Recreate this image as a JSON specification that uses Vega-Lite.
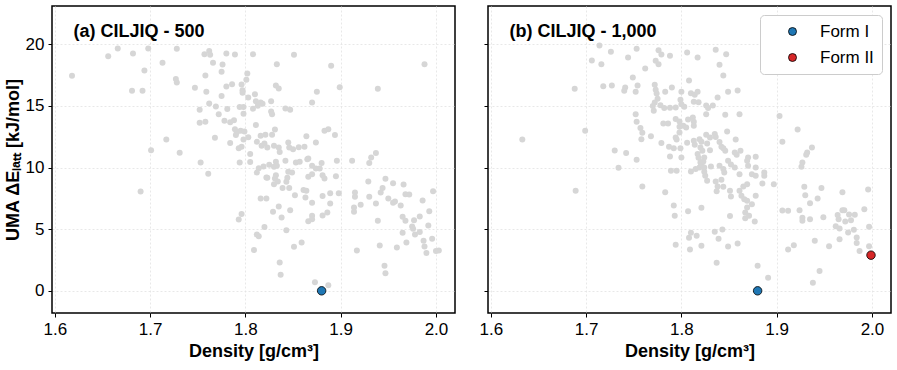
{
  "$schema": "https://vega.github.io/schema/vega-lite/v6.json",
  "padding": {"left": 3, "top": 5, "right": 5, "bottom": 5},
  "background": "white",
  "datasets": {
    "a": [
      {"d":1.666,"e":19.65},{"d":1.656,"e":19.03},{"d":1.682,"e":19.25},{"d":1.698,"e":19.65},{"d":1.728,"e":19.63},{"d":1.713,"e":18.49},{"d":1.694,"e":17.87},{"d":1.618,"e":17.44},{"d":1.727,"e":17.17},{"d":1.728,"e":16.9},{"d":1.681,"e":16.22},{"d":1.692,"e":16.22},{"d":1.717,"e":12.27},{"d":1.701,"e":11.41},{"d":1.731,"e":11.19},{"d":1.690,"e":8.05},
      {"d":1.757,"e":19.19},{"d":1.762,"e":19.46},{"d":1.763,"e":19.14},{"d":1.780,"e":19.25},{"d":1.789,"e":19.17},{"d":1.808,"e":19.19},{"d":1.851,"e":19.14},{"d":1.766,"e":18.49},{"d":1.776,"e":18.35},{"d":1.833,"e":18.38},{"d":1.775,"e":17.76},{"d":1.802,"e":17.62},{"d":1.758,"e":17.46},{"d":1.801,"e":17.11},{"d":1.747,"e":16.46},{"d":1.780,"e":16.57},{"d":1.786,"e":16.76},{"d":1.796,"e":16.73},{"d":1.797,"e":16.27},{"d":1.797,"e":16.06},{"d":1.832,"e":16.65},{"d":1.835,"e":16.41},{"d":1.875,"e":16.14},{"d":1.759,"e":16.14},{"d":1.775,"e":15.81},{"d":1.810,"e":15.95},{"d":1.803,"e":15.68},{"d":1.870,"e":15.27},{"d":1.827,"e":15.38},{"d":1.811,"e":15.38},{"d":1.816,"e":15.27},{"d":1.818,"e":15.17},{"d":1.762,"e":15.19},{"d":1.769,"e":14.95},{"d":1.813,"e":15.0},{"d":1.794,"e":14.9},{"d":1.798,"e":14.9},{"d":1.808,"e":14.76},{"d":1.752,"e":14.68},{"d":1.781,"e":14.74},{"d":1.842,"e":14.78},{"d":1.847,"e":14.68},{"d":1.827,"e":14.54},{"d":1.828,"e":14.33},{"d":1.798,"e":14.36},{"d":1.772,"e":14.33},{"d":1.752,"e":13.63},{"d":1.758,"e":13.71},{"d":1.778,"e":13.79},{"d":1.784,"e":13.68},{"d":1.788,"e":13.84},{"d":1.811,"e":13.44},{"d":1.789,"e":13.11},{"d":1.791,"e":12.87},{"d":1.795,"e":12.98},{"d":1.799,"e":12.92},{"d":1.831,"e":13.08},{"d":1.768,"e":12.41},{"d":1.790,"e":12.63},{"d":1.803,"e":12.46},{"d":1.798,"e":12.27},{"d":1.816,"e":12.57},{"d":1.821,"e":12.65},{"d":1.828,"e":12.65},{"d":1.864,"e":12.54},{"d":1.883,"e":12.98},{"d":1.887,"e":13.11},{"d":1.894,"e":12.63},{"d":1.784,"e":11.98},{"d":1.812,"e":12.08},{"d":1.817,"e":11.76},{"d":1.820,"e":11.95},{"d":1.823,"e":11.62},{"d":1.793,"e":11.57},{"d":1.796,"e":11.68},{"d":1.835,"e":11.62},{"d":1.830,"e":11.76},{"d":1.845,"e":12.03},{"d":1.846,"e":11.62},{"d":1.850,"e":11.49},{"d":1.856,"e":11.65},{"d":1.862,"e":11.68},{"d":1.874,"e":12.03},{"d":1.805,"e":11.09},{"d":1.836,"e":11.25},{"d":1.866,"e":10.73},
      {"d":1.890,"e":18.25},{"d":1.988,"e":18.38},{"d":1.899,"e":16.52},{"d":1.939,"e":16.38},{"d":1.896,"e":10.54},{"d":1.912,"e":10.54},{"d":1.930,"e":10.36},{"d":1.932,"e":10.81},{"d":1.937,"e":11.17},
      {"d":1.753,"e":10.41},{"d":1.761,"e":9.49},{"d":1.794,"e":10.41},{"d":1.805,"e":10.44},{"d":1.814,"e":9.95},{"d":1.819,"e":10.08},{"d":1.825,"e":10.22},{"d":1.830,"e":10.06},{"d":1.832,"e":10.46},{"d":1.833,"e":10.14},{"d":1.842,"e":10.54},{"d":1.853,"e":10.41},{"d":1.857,"e":10.46},{"d":1.865,"e":10.68},{"d":1.812,"e":9.59},{"d":1.822,"e":9.19},{"d":1.823,"e":9.16},{"d":1.832,"e":9.38},{"d":1.831,"e":9.11},{"d":1.834,"e":8.86},{"d":1.845,"e":9.65},{"d":1.849,"e":9.59},{"d":1.844,"e":9.16},{"d":1.843,"e":8.84},{"d":1.830,"e":8.65},{"d":1.839,"e":8.33},{"d":1.846,"e":8.33},{"d":1.852,"e":7.76},{"d":1.866,"e":9.25},{"d":1.870,"e":9.46},{"d":1.861,"e":8.17},{"d":1.864,"e":8.11},{"d":1.863,"e":7.57},{"d":1.870,"e":7.14},{"d":1.870,"e":10.14},{"d":1.874,"e":9.92},{"d":1.878,"e":9.92},{"d":1.880,"e":10.36},{"d":1.881,"e":9.38},{"d":1.883,"e":9.11},{"d":1.881,"e":7.68},{"d":1.816,"e":7.49},{"d":1.822,"e":7.49},{"d":1.835,"e":6.84},{"d":1.847,"e":6.54},{"d":1.829,"e":6.41},{"d":1.838,"e":5.95},{"d":1.870,"e":6.08},{"d":1.870,"e":5.81},{"d":1.866,"e":5.65},{"d":1.881,"e":6.11},{"d":1.886,"e":6.35},{"d":1.796,"e":6.22},{"d":1.793,"e":5.78},{"d":1.820,"e":5.17},{"d":1.843,"e":4.92},{"d":1.812,"e":4.57},{"d":1.814,"e":4.43},{"d":1.859,"e":3.92},{"d":1.851,"e":3.57},{"d":1.809,"e":3.30},{"d":1.836,"e":2.30},{"d":1.837,"e":1.30},{"d":1.873,"e":0.70},{"d":1.887,"e":0.46},
      {"d":1.895,"e":9.30},{"d":1.889,"e":7.92},{"d":1.898,"e":7.92},{"d":1.889,"e":7.08},{"d":1.915,"e":7.97},{"d":1.915,"e":7.62},{"d":1.914,"e":6.76},{"d":1.914,"e":6.41},{"d":1.921,"e":6.97},{"d":1.929,"e":8.86},{"d":1.947,"e":9.08},{"d":1.944,"e":8.33},{"d":1.942,"e":7.97},{"d":1.930,"e":7.62},{"d":1.937,"e":7.08},{"d":1.955,"e":8.73},{"d":1.966,"e":8.62},{"d":1.950,"e":7.49},{"d":1.955,"e":7.14},{"d":1.957,"e":7.24},{"d":1.963,"e":6.92},{"d":1.968,"e":7.84},{"d":1.972,"e":7.81},{"d":1.997,"e":8.08},{"d":1.986,"e":7.33},{"d":1.993,"e":6.46},{"d":1.939,"e":5.68},{"d":1.965,"e":6.0},{"d":1.968,"e":5.68},{"d":1.977,"e":5.73},{"d":1.983,"e":6.03},{"d":1.975,"e":5.22},{"d":1.976,"e":5.03},{"d":1.978,"e":4.57},{"d":1.983,"e":4.76},{"d":1.992,"e":5.30},{"d":1.965,"e":4.70},{"d":1.996,"e":4.22},{"d":1.987,"e":4.06},{"d":1.988,"e":3.59},{"d":1.990,"e":3.06},{"d":1.969,"e":3.92},{"d":1.959,"e":3.52},{"d":1.941,"e":3.68},{"d":1.917,"e":3.27},{"d":2.000,"e":3.22},{"d":2.003,"e":3.26},{"d":1.946,"e":2.03},{"d":1.947,"e":1.43}
    ],
    "b": [
      {"d":1.714,"e":19.9},{"d":1.726,"e":19.38},{"d":1.706,"e":18.68},{"d":1.716,"e":18.38},{"d":1.744,"e":18.92},{"d":1.688,"e":16.38},{"d":1.718,"e":16.6},{"d":1.727,"e":16.65},{"d":1.741,"e":16.49},{"d":1.740,"e":16.22},{"d":1.699,"e":12.98},{"d":1.633,"e":12.27},{"d":1.730,"e":11.38},{"d":1.742,"e":11.17},{"d":1.734,"e":9.98},{"d":1.689,"e":8.11},
      {"d":1.753,"e":19.63},{"d":1.776,"e":19.52},{"d":1.779,"e":19.17},{"d":1.788,"e":19.06},{"d":1.806,"e":19.33},{"d":1.817,"e":18.92},{"d":1.836,"e":19.55},{"d":1.847,"e":19.19},{"d":1.840,"e":18.33},{"d":1.773,"e":18.65},{"d":1.776,"e":18.38},{"d":1.762,"e":18.03},{"d":1.844,"e":17.46},{"d":1.749,"e":17.3},{"d":1.808,"e":17.06},{"d":1.754,"e":16.65},{"d":1.752,"e":16.14},{"d":1.772,"e":16.71},{"d":1.773,"e":16.3},{"d":1.774,"e":16.0},{"d":1.783,"e":16.14},{"d":1.790,"e":16.49},{"d":1.800,"e":16.14},{"d":1.810,"e":16.03},{"d":1.814,"e":15.9},{"d":1.817,"e":16.14},{"d":1.859,"e":16.25},{"d":1.849,"e":16.14},{"d":1.838,"e":15.68},{"d":1.775,"e":15.57},{"d":1.772,"e":15.27},{"d":1.799,"e":15.49},{"d":1.800,"e":15.14},{"d":1.813,"e":15.33},{"d":1.818,"e":15.3},{"d":1.778,"e":15.06},{"d":1.782,"e":14.82},{"d":1.770,"e":14.98},{"d":1.771,"e":14.6},{"d":1.788,"e":14.84},{"d":1.794,"e":14.87},{"d":1.803,"e":14.92},{"d":1.826,"e":15.03},{"d":1.833,"e":15.03},{"d":1.828,"e":14.82},{"d":1.826,"e":14.33},{"d":1.846,"e":14.27},{"d":1.861,"e":14.33},{"d":1.752,"e":14.33},{"d":1.753,"e":13.71},{"d":1.781,"e":13.57},{"d":1.786,"e":13.57},{"d":1.794,"e":13.93},{"d":1.798,"e":13.73},{"d":1.807,"e":13.89},{"d":1.812,"e":14.06},{"d":1.813,"e":13.71},{"d":1.802,"e":13.38},{"d":1.805,"e":13.24},{"d":1.798,"e":13.3},{"d":1.813,"e":13.38},{"d":1.757,"e":13.2},{"d":1.759,"e":12.81},{"d":1.758,"e":12.3},{"d":1.768,"e":12.54},{"d":1.794,"e":12.43},{"d":1.795,"e":12.27},{"d":1.798,"e":12.84},{"d":1.813,"e":12.17},{"d":1.819,"e":12.3},{"d":1.821,"e":12.08},{"d":1.826,"e":12.65},{"d":1.830,"e":12.43},{"d":1.835,"e":12.71},{"d":1.836,"e":12.47},{"d":1.848,"e":12.92},{"d":1.806,"e":12.0},{"d":1.840,"e":12.06},{"d":1.842,"e":11.68},{"d":1.844,"e":11.57},{"d":1.857,"e":12.27},{"d":1.779,"e":11.98},{"d":1.787,"e":11.68},{"d":1.792,"e":11.57},{"d":1.799,"e":11.57},{"d":1.814,"e":11.84},{"d":1.820,"e":11.62},{"d":1.822,"e":11.35},{"d":1.830,"e":11.41},{"d":1.827,"e":11.95},{"d":1.846,"e":11.35},{"d":1.856,"e":11.22},{"d":1.862,"e":11.35},{"d":1.858,"e":11.03},{"d":1.788,"e":10.89},{"d":1.800,"e":10.81},{"d":1.817,"e":11.09},{"d":1.818,"e":10.79},{"d":1.824,"e":10.81},{"d":1.870,"e":10.81},{"d":1.878,"e":10.87},{"d":1.753,"e":10.62},
      {"d":1.903,"e":14.17},{"d":1.922,"e":13.08},{"d":1.906,"e":12.08},{"d":1.937,"e":11.62},{"d":1.932,"e":11.22},{"d":1.931,"e":11.03},
      {"d":1.789,"e":9.73},{"d":1.795,"e":9.73},{"d":1.810,"e":9.68},{"d":1.815,"e":9.87},{"d":1.819,"e":10.0},{"d":1.820,"e":10.41},{"d":1.823,"e":10.49},{"d":1.821,"e":10.27},{"d":1.824,"e":10.0},{"d":1.824,"e":9.65},{"d":1.825,"e":9.33},{"d":1.827,"e":8.92},{"d":1.831,"e":10.08},{"d":1.840,"e":10.14},{"d":1.844,"e":9.87},{"d":1.845,"e":9.59},{"d":1.849,"e":10.54},{"d":1.852,"e":10.24},{"d":1.856,"e":10.0},{"d":1.861,"e":9.46},{"d":1.869,"e":10.54},{"d":1.870,"e":10.14},{"d":1.874,"e":9.46},{"d":1.878,"e":10.0},{"d":1.878,"e":9.33},{"d":1.836,"e":8.86},{"d":1.842,"e":9.0},{"d":1.838,"e":8.46},{"d":1.844,"e":8.43},{"d":1.837,"e":8.08},{"d":1.851,"e":8.11},{"d":1.852,"e":7.65},{"d":1.861,"e":8.11},{"d":1.865,"e":8.46},{"d":1.869,"e":8.65},{"d":1.863,"e":7.70},{"d":1.866,"e":7.43},{"d":1.869,"e":7.30},{"d":1.874,"e":7.03},{"d":1.869,"e":6.76},{"d":1.878,"e":7.70},{"d":1.867,"e":6.35},{"d":1.871,"e":6.08},{"d":1.867,"e":5.89},{"d":1.877,"e":5.62},{"d":1.759,"e":8.46},{"d":1.783,"e":8.0},{"d":1.792,"e":6.92},{"d":1.793,"e":6.08},{"d":1.807,"e":6.46},{"d":1.821,"e":6.73},{"d":1.851,"e":6.06},{"d":1.843,"e":4.97},{"d":1.835,"e":4.79},{"d":1.839,"e":4.22},{"d":1.810,"e":4.70},{"d":1.816,"e":4.46},{"d":1.808,"e":4.3},{"d":1.794,"e":3.73},{"d":1.809,"e":3.35},{"d":1.821,"e":3.65},{"d":1.849,"e":3.59},{"d":1.859,"e":3.84},{"d":1.837,"e":2.27},{"d":1.880,"e":2.03},
      {"d":1.887,"e":9.59},{"d":1.887,"e":9.33},{"d":1.885,"e":8.70},{"d":1.897,"e":8.65},{"d":1.927,"e":10.41},{"d":1.926,"e":10.06},{"d":1.929,"e":8.43},{"d":1.930,"e":7.76},{"d":1.947,"e":8.33},{"d":1.943,"e":7.49},{"d":1.935,"e":7.11},{"d":1.969,"e":8.0},{"d":1.996,"e":8.22},{"d":1.906,"e":6.51},{"d":1.912,"e":6.49},{"d":1.924,"e":6.54},{"d":1.927,"e":5.92},{"d":1.927,"e":5.68},{"d":1.935,"e":5.81},{"d":1.949,"e":5.97},{"d":1.964,"e":6.14},{"d":1.965,"e":5.81},{"d":1.969,"e":6.54},{"d":1.971,"e":6.54},{"d":1.972,"e":5.62},{"d":1.976,"e":6.19},{"d":1.978,"e":5.73},{"d":1.982,"e":6.16},{"d":1.992,"e":6.62},{"d":1.962,"e":5.24},{"d":1.966,"e":5.05},{"d":1.975,"e":4.73},{"d":1.981,"e":4.95},{"d":1.997,"e":5.19},{"d":1.966,"e":4.19},{"d":1.984,"e":4.32},{"d":1.984,"e":3.87},{"d":1.940,"e":4.06},{"d":1.955,"e":3.62},{"d":1.918,"e":3.70},{"d":1.912,"e":3.35},{"d":1.997,"e":3.62},{"d":1.987,"e":3.22},{"d":1.945,"e":1.60},{"d":1.938,"e":0.65},{"d":1.891,"e":1.05}
    ],
    "fa": [{"d":1.880,"e":0.0,"form":"Form I"}],
    "fb": [{"d":1.880,"e":0.0,"form":"Form I"},{"d":1.999,"e":2.89,"form":"Form II"}]
  },
  "spacing": 22,
  "hconcat": [
    {
      "width": 403,
      "height": 307,
      "layer": [
        {
          "data": {"name": "a"},
          "mark": {"type": "circle", "size": 36, "color": "#d6d6d6", "opacity": 1},
          "encoding": {
            "x": {"field": "d", "type": "quantitative", "scale": {"domain": [1.597, 2.02], "nice": false, "zero": false},
                  "axis": {"values": [1.6, 1.7, 1.8, 1.9, 2.0], "format": ".1f", "title": "Density [g/cm³]"}},
            "y": {"field": "e", "type": "quantitative", "scale": {"domain": [-1.8, 23.1], "nice": false, "zero": false},
                  "axis": {"values": [0, 5, 10, 15, 20], "title": "UMA ΔEₗₐₜₜ [kJ/mol]"}}
          }
        },
        {
          "data": {"name": "fa"},
          "mark": {"type": "circle", "size": 72, "stroke": "black", "strokeWidth": 0.8, "opacity": 1},
          "encoding": {
            "x": {"field": "d", "type": "quantitative"},
            "y": {"field": "e", "type": "quantitative"},
            "color": {"field": "form", "type": "nominal", "scale": {"domain": ["Form I", "Form II"], "range": ["#1f77b4", "#d62728"]}, "legend": null}
          }
        },
        {
          "data": {"values": [{"label": "(a) CILJIQ - 500"}]},
          "mark": {"type": "text", "align": "left", "baseline": "alphabetic", "font": "Liberation Sans", "fontSize": 18, "fontWeight": "bold", "color": "black"},
          "encoding": {
            "x": {"datum": 1.6195, "type": "quantitative"},
            "y": {"datum": 20.6, "type": "quantitative"},
            "text": {"field": "label"}
          }
        }
      ]
    },
    {
      "width": 403,
      "height": 307,
      "layer": [
        {
          "data": {"name": "b"},
          "mark": {"type": "circle", "size": 36, "color": "#d6d6d6", "opacity": 1},
          "encoding": {
            "x": {"field": "d", "type": "quantitative", "scale": {"domain": [1.597, 2.02], "nice": false, "zero": false},
                  "axis": {"values": [1.6, 1.7, 1.8, 1.9, 2.0], "format": ".1f", "title": "Density [g/cm³]"}},
            "y": {"field": "e", "type": "quantitative", "scale": {"domain": [-1.8, 23.1], "nice": false, "zero": false},
                  "axis": {"values": [0, 5, 10, 15, 20], "title": null, "labels": false}}
          }
        },
        {
          "data": {"name": "fb"},
          "mark": {"type": "circle", "size": 72, "stroke": "black", "strokeWidth": 0.8, "opacity": 1},
          "encoding": {
            "x": {"field": "d", "type": "quantitative"},
            "y": {"field": "e", "type": "quantitative"},
            "color": {"field": "form", "type": "nominal", "scale": {"domain": ["Form I", "Form II"], "range": ["#1f77b4", "#d62728"]},
                      "legend": {"orient": "top-right", "title": null, "offset": 9, "labelFont": "Liberation Sans", "labelFontSize": 17, "labelColor": "black",
                                 "fillColor": "white", "strokeColor": "#cccccc", "cornerRadius": 4, "padding": 8, "symbolSize": 64, "symbolType": "circle",
                                 "symbolStrokeColor": "black", "symbolStrokeWidth": 0.8, "symbolOffset": 16, "labelOffset": 19, "rowPadding": 8}}
          }
        },
        {
          "data": {"values": [{"label": "(b) CILJIQ - 1,000"}]},
          "mark": {"type": "text", "align": "left", "baseline": "alphabetic", "font": "Liberation Sans", "fontSize": 18, "fontWeight": "bold", "color": "black"},
          "encoding": {
            "x": {"datum": 1.6195, "type": "quantitative"},
            "y": {"datum": 20.6, "type": "quantitative"},
            "text": {"field": "label"}
          }
        }
      ]
    }
  ],
  "resolve": {"scale": {"color": "independent"}, "legend": {"color": "independent"}},
  "config": {
    "font": "Liberation Sans",
    "view": {"stroke": "black", "strokeWidth": 1.5},
    "axis": {
      "labelFont": "Liberation Sans", "labelFontSize": 17, "labelColor": "black",
      "titleFont": "Liberation Sans", "titleFontSize": 18, "titleFontWeight": "bold", "titleColor": "black",
      "tickColor": "black", "tickSize": 4, "tickWidth": 1, "labelPadding": 4, "domain": false,
      "grid": true, "gridColor": "#e2e2e2", "gridDash": [2, 2], "gridWidth": 0.8
    },
    "axisY": {"titlePadding": 3},
    "axisX": {"titlePadding": 5}
  }
}
